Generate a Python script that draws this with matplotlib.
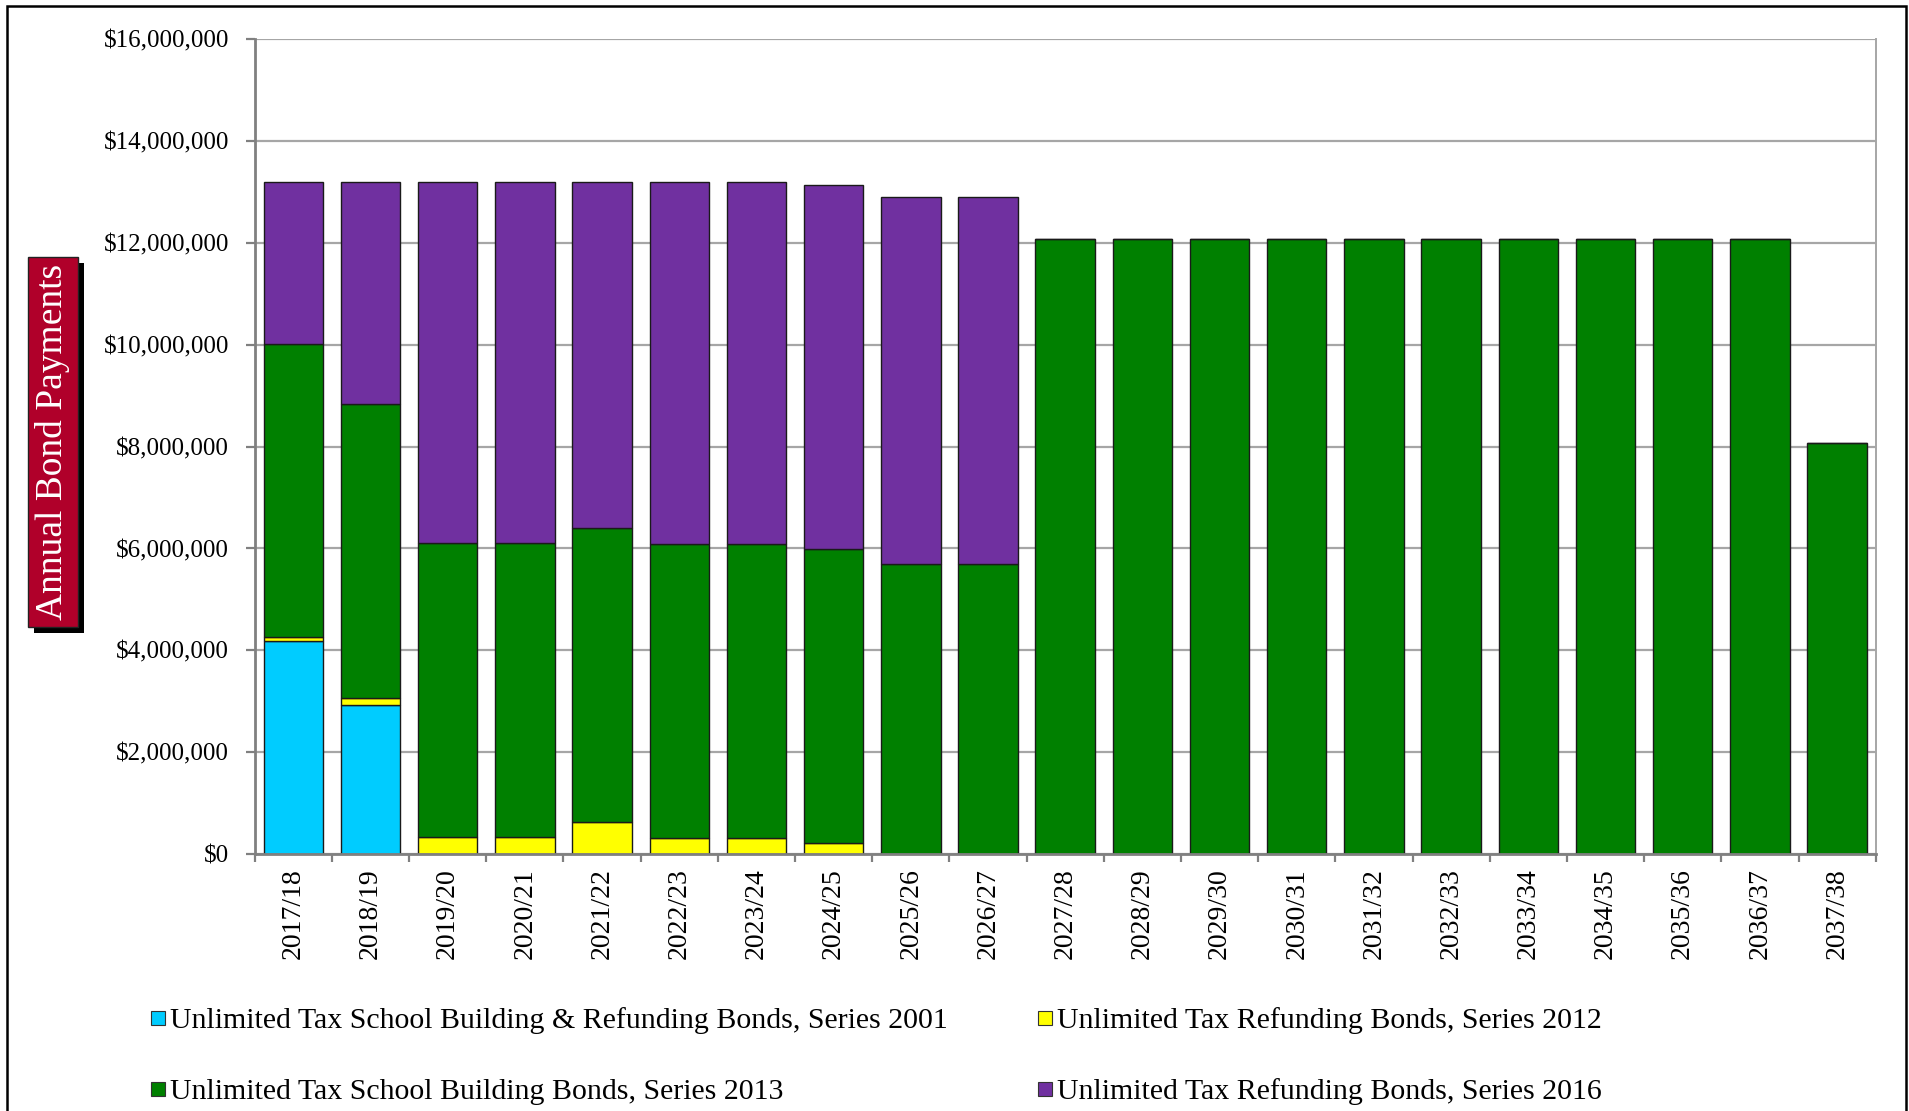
import matplotlib.pyplot as plt
from matplotlib.patches import Rectangle
from matplotlib.ticker import FuncFormatter, FixedLocator


############## Data ##############

years = ["2017/18", "2018/19", "2019/20", "2020/21", "2021/22", "2022/23", "2023/24",
         "2024/25", "2025/26", "2026/27", "2027/28", "2028/29", "2029/30", "2030/31",
         "2031/32", "2032/33", "2033/34", "2034/35", "2035/36", "2036/37", "2037/38"]

series_2001 = [4.19, 2.93, 0, 0, 0, 0, 0, 0, 0, 0, 0, 0, 0, 0, 0, 0, 0, 0, 0, 0, 0]
series_2012 = [0.07, 0.14, 0.34, 0.34, 0.63, 0.31, 0.31, 0.215, 0, 0, 0, 0, 0, 0, 0, 0, 0, 0, 0, 0, 0]
series_2013 = [5.75, 5.76, 5.76, 5.76, 5.77, 5.77, 5.77, 5.77, 5.69, 5.69,
               12.07, 12.07, 12.07, 12.07, 12.07, 12.07, 12.07, 12.07, 12.07, 12.07, 8.07]
series_2016 = [3.19, 4.37, 7.10, 7.10, 6.80, 7.12, 7.12, 7.15, 7.21, 7.21,
               0, 0, 0, 0, 0, 0, 0, 0, 0, 0, 0]

labels = ["Unlimited Tax School Building & Refunding Bonds, Series 2001",
          "Unlimited Tax Refunding Bonds, Series 2012",
          "Unlimited Tax School Building Bonds, Series 2013",
          "Unlimited Tax Refunding Bonds, Series 2016"]
colors = ["#00CCFF", "#FFFF00", "#008000", "#7030A0"]

############## Plot ##############

plt.rcParams['font.family'] = ['Liberation Serif', 'DejaVu Serif']

W, H = 1909, 1111
fig = plt.figure(figsize=(W / 100, H / 100), dpi=100)
ax = fig.add_axes([254.7 / W, 1 - 854 / H, (1875.7 - 254.7) / W, (854 - 39.3) / H])

x = list(range(len(years)))
bottom = [0.0] * len(years)
for vals, lab, col in zip([series_2001, series_2012, series_2013, series_2016], labels, colors):
    vals_d = [v * 1e6 for v in vals]
    ax.bar(x, vals_d, 0.77, bottom=bottom, color=col, edgecolor="#1a1a1a", linewidth=1.0, label=lab)
    bottom = [b + v for b, v in zip(bottom, vals_d)]

ax.set_xlim(-0.5, len(years) - 0.5)
ax.set_ylim(0, 16e6)
ax.set_yticks([i * 2e6 for i in range(9)])
ax.yaxis.set_major_formatter(FuncFormatter(lambda v, p: "${:,.0f}".format(v)))
ax.grid(axis="y", color="#A6A6A6", linewidth=1.6)
ax.set_axisbelow(True)

ax.set_xticks(x)
ax.set_xticklabels(years, rotation=90, fontsize=20)
ax.tick_params(axis="x", length=0, pad=10)
ax.xaxis.set_minor_locator(FixedLocator([i - 0.5 for i in range(len(years) + 1)]))
ax.tick_params(axis="x", which="minor", length=6, width=1.6, color="#808080")
ax.tick_params(axis="y", length=6.5, width=1.6, color="#808080", labelsize=18, pad=12)

ax.spines["top"].set_visible(False)
ax.spines["left"].set_color("#808080")
ax.spines["left"].set_linewidth(2.0)
ax.spines["bottom"].set_color("#808080")
ax.spines["bottom"].set_linewidth(2.0)
ax.spines["right"].set_color("#A6A6A6")
ax.spines["right"].set_linewidth(1.4)

# y label box with shadow
fig.patches.append(Rectangle((33.7 / W, 1 - 632.7 / H), 50.3 / W, 370 / H,
                             transform=fig.transFigure, facecolor="black", edgecolor="none"))
fig.patches.append(Rectangle((27.7 / W, 1 - 626.7 / H), 50.3 / W, 370 / H,
                             transform=fig.transFigure, facecolor="#B0002A", edgecolor="#222222", linewidth=1))
fig.text(52.8 / W, 1 - 441.7 / H, "Annual Bond Payments", rotation=90, color="white",
         fontsize=27, ha="center", va="center")

# legend
leg_pos = [(151, 1018), (1038, 1018), (151, 1089), (1038, 1089)]
for (px, py), lab, col in zip(leg_pos, labels, colors):
    fig.patches.append(Rectangle((px / W, 1 - (py + 7) / H), 14 / W, 14 / H, transform=fig.transFigure,
                                 facecolor=col, edgecolor="#333333", linewidth=0.8))
    fig.text((px + 19) / W, 1 - py / H, lab, fontsize=21.5, ha="left", va="center_baseline")

# outer frame
fig.patches.append(Rectangle((7 / W, -0.05), 1899 / W, 1.05 - 6 / H, transform=fig.transFigure,
                             facecolor="none", edgecolor="black", linewidth=1.8))

fig.savefig("out.png", dpi=100)
